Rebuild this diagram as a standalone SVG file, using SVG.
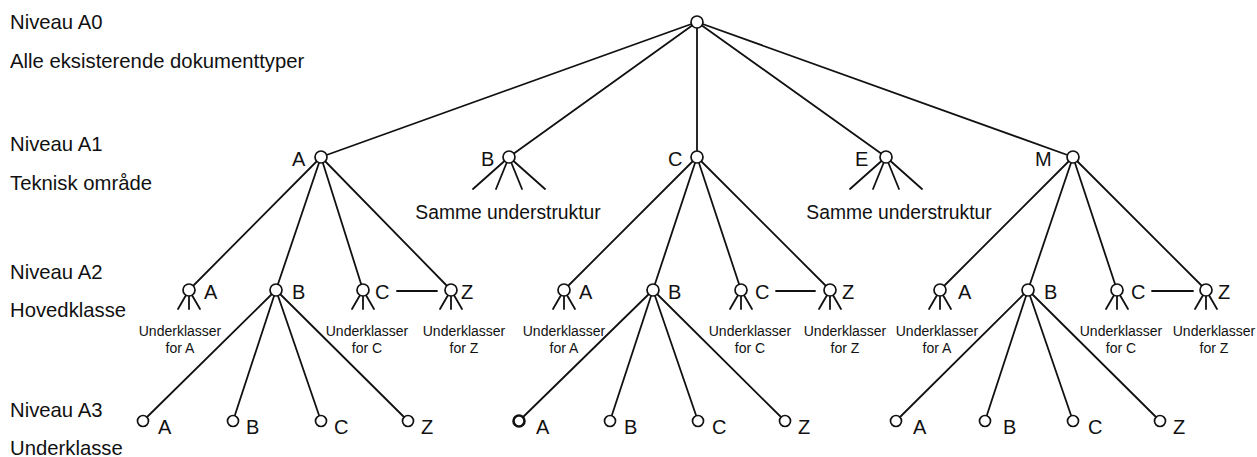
<svg xmlns="http://www.w3.org/2000/svg" width="1257" height="457" viewBox="0 0 1257 457">
  <style>
    text { font-family: "Liberation Sans", Arial, sans-serif; fill: #111; }
    .lvl { font-size: 20.3px; }
    .lbl { font-size: 20px; }
    .sub { font-size: 14px; text-anchor: middle; }
    .note { font-size: 19.3px; text-anchor: middle; }
    line, path { stroke: #111; stroke-width: 1.8; fill: none; stroke-linecap: round; }
    circle { fill: #fff; stroke: #111; stroke-width: 1.7; }
  </style>
  <rect width="1257" height="457" fill="#fff"/>

  <!-- level captions -->
  <g id="levels" class="lvl">
    <text x="10" y="29">Niveau A0</text>
    <text x="10" y="68">Alle eksisterende dokumenttyper</text>
    <text x="10" y="151">Niveau A1</text>
    <text x="10" y="190">Teknisk område</text>
    <text x="10" y="279">Niveau A2</text>
    <text x="10" y="317">Hovedklasse</text>
    <text x="10" y="417">Niveau A3</text>
    <text x="10" y="455">Underklasse</text>
  </g>

  <!-- connectors (drawn centre to centre, circles cover the ends) -->
  <g id="connectors">
    <line x1="697" y1="22" x2="321" y2="157"/>
    <line x1="697" y1="22" x2="509" y2="157"/>
    <line x1="697" y1="22" x2="697" y2="157"/>
    <line x1="697" y1="22" x2="886" y2="157"/>
    <line x1="697" y1="22" x2="1073" y2="157"/>

    <!-- A subtree -->
    <line x1="321" y1="157" x2="189" y2="290"/>
    <line x1="321" y1="157" x2="276" y2="290"/>
    <line x1="321" y1="157" x2="363" y2="290"/>
    <line x1="321" y1="157" x2="451" y2="290"/>
    <line x1="397" y1="291" x2="437" y2="291"/>
    <line x1="276" y1="290" x2="143" y2="421"/>
    <line x1="276" y1="290" x2="233" y2="421"/>
    <line x1="276" y1="290" x2="321" y2="421"/>
    <line x1="276" y1="290" x2="408" y2="421"/>

    <!-- C subtree -->
    <line x1="697" y1="157" x2="564" y2="290"/>
    <line x1="697" y1="157" x2="653" y2="290"/>
    <line x1="697" y1="157" x2="741" y2="290"/>
    <line x1="697" y1="157" x2="830" y2="290"/>
    <line x1="776" y1="291" x2="815" y2="291"/>
    <line x1="653" y1="290" x2="519" y2="421"/>
    <line x1="653" y1="290" x2="610" y2="421"/>
    <line x1="653" y1="290" x2="698" y2="421"/>
    <line x1="653" y1="290" x2="785" y2="421"/>

    <!-- M subtree -->
    <line x1="1073" y1="157" x2="940" y2="290"/>
    <line x1="1073" y1="157" x2="1028" y2="290"/>
    <line x1="1073" y1="157" x2="1117" y2="290"/>
    <line x1="1073" y1="157" x2="1206" y2="290"/>
    <line x1="1152" y1="291" x2="1193" y2="291"/>
    <line x1="1028" y1="290" x2="896" y2="421"/>
    <line x1="1028" y1="290" x2="985" y2="421"/>
    <line x1="1028" y1="290" x2="1073" y2="421"/>
    <line x1="1028" y1="290" x2="1160" y2="421"/>
  </g>

  <defs>
    <!-- collapsed sub-structure: four short stubs -->
    <path id="fan4" d="M0 0 L-36 32 M0 0 L-13 32 M0 0 L13 32 M0 0 L36 32"/>
    <!-- collapsed sub-classes: three short stubs -->
    <path id="fan3" d="M0 0 L-11 19 M0 0 L0 19 M0 0 L11 19"/>
  </defs>

  <!-- level A0 -->
  <g id="root"><circle cx="697" cy="22" r="6"/></g>

  <!-- level A1 -->
  <g id="a1-A"><circle cx="321" cy="157" r="6"/><text class="lbl" x="292" y="166">A</text></g>
  <g id="a1-B"><use href="#fan4" x="509" y="157"/><circle cx="509" cy="157" r="6"/><text class="lbl" x="481" y="166">B</text>
    <text class="note" x="508" y="219">Samme understruktur</text></g>
  <g id="a1-C"><circle cx="697" cy="157" r="6"/><text class="lbl" x="668" y="166">C</text></g>
  <g id="a1-E"><use href="#fan4" x="886" y="157"/><circle cx="886" cy="157" r="6"/><text class="lbl" x="855" y="166">E</text>
    <text class="note" x="899" y="219">Samme understruktur</text></g>
  <g id="a1-M"><circle cx="1073" cy="157" r="6"/><text class="lbl" x="1035" y="166">M</text></g>

  <!-- level A2, under A -->
  <g id="a2-A-A"><use href="#fan3" x="189" y="290"/><circle cx="189" cy="290" r="6"/><text class="lbl" x="204" y="299">A</text>
    <text class="sub" x="180" y="336">Underklasser</text><text class="sub" x="180" y="353">for A</text></g>
  <g id="a2-A-B"><circle cx="276" cy="290" r="6"/><text class="lbl" x="292" y="299">B</text></g>
  <g id="a2-A-C"><use href="#fan3" x="363" y="290"/><circle cx="363" cy="290" r="6"/><text class="lbl" x="375" y="299">C</text>
    <text class="sub" x="367" y="336">Underklasser</text><text class="sub" x="367" y="353">for C</text></g>
  <g id="a2-A-Z"><use href="#fan3" x="451" y="290"/><circle cx="451" cy="290" r="6"/><text class="lbl" x="461" y="299">Z</text>
    <text class="sub" x="464" y="336">Underklasser</text><text class="sub" x="464" y="353">for Z</text></g>

  <!-- level A2, under C -->
  <g id="a2-C-A"><use href="#fan3" x="564" y="290"/><circle cx="564" cy="290" r="6"/><text class="lbl" x="579" y="299">A</text>
    <text class="sub" x="564" y="336">Underklasser</text><text class="sub" x="564" y="353">for A</text></g>
  <g id="a2-C-B"><circle cx="653" cy="290" r="6"/><text class="lbl" x="668" y="299">B</text></g>
  <g id="a2-C-C"><use href="#fan3" x="741" y="290"/><circle cx="741" cy="290" r="6"/><text class="lbl" x="755" y="299">C</text>
    <text class="sub" x="750" y="336">Underklasser</text><text class="sub" x="750" y="353">for C</text></g>
  <g id="a2-C-Z"><use href="#fan3" x="830" y="290"/><circle cx="830" cy="290" r="6"/><text class="lbl" x="842" y="299">Z</text>
    <text class="sub" x="845" y="336">Underklasser</text><text class="sub" x="845" y="353">for Z</text></g>

  <!-- level A2, under M -->
  <g id="a2-M-A"><use href="#fan3" x="940" y="290"/><circle cx="940" cy="290" r="6"/><text class="lbl" x="958" y="299">A</text>
    <text class="sub" x="937" y="336">Underklasser</text><text class="sub" x="937" y="353">for A</text></g>
  <g id="a2-M-B"><circle cx="1028" cy="290" r="6"/><text class="lbl" x="1044" y="299">B</text></g>
  <g id="a2-M-C"><use href="#fan3" x="1117" y="290"/><circle cx="1117" cy="290" r="6"/><text class="lbl" x="1131" y="299">C</text>
    <text class="sub" x="1121" y="336">Underklasser</text><text class="sub" x="1121" y="353">for C</text></g>
  <g id="a2-M-Z"><use href="#fan3" x="1206" y="290"/><circle cx="1206" cy="290" r="6"/><text class="lbl" x="1218" y="299">Z</text>
    <text class="sub" x="1214" y="336">Underklasser</text><text class="sub" x="1214" y="353">for Z</text></g>

  <!-- level A3 -->
  <g id="a3-A-A"><circle cx="143" cy="421" r="5.5"/><text class="lbl" x="158" y="434">A</text></g>
  <g id="a3-A-B"><circle cx="233" cy="421" r="5.5"/><text class="lbl" x="246" y="434">B</text></g>
  <g id="a3-A-C"><circle cx="321" cy="421" r="5.5"/><text class="lbl" x="334" y="434">C</text></g>
  <g id="a3-A-Z"><circle cx="408" cy="421" r="5.5"/><text class="lbl" x="421" y="434">Z</text></g>

  <g id="a3-C-A"><circle cx="519" cy="421" r="5.5" style="stroke-width:2.6"/><text class="lbl" x="536" y="434">A</text></g>
  <g id="a3-C-B"><circle cx="610" cy="421" r="5.5"/><text class="lbl" x="624" y="434">B</text></g>
  <g id="a3-C-C"><circle cx="698" cy="421" r="5.5"/><text class="lbl" x="712" y="434">C</text></g>
  <g id="a3-C-Z"><circle cx="785" cy="421" r="5.5"/><text class="lbl" x="798" y="434">Z</text></g>

  <g id="a3-M-A"><circle cx="896" cy="421" r="5.5"/><text class="lbl" x="913" y="434">A</text></g>
  <g id="a3-M-B"><circle cx="985" cy="421" r="5.5"/><text class="lbl" x="1003" y="434">B</text></g>
  <g id="a3-M-C"><circle cx="1073" cy="421" r="5.5"/><text class="lbl" x="1088" y="434">C</text></g>
  <g id="a3-M-Z"><circle cx="1160" cy="421" r="5.5"/><text class="lbl" x="1173" y="434">Z</text></g>
</svg>
